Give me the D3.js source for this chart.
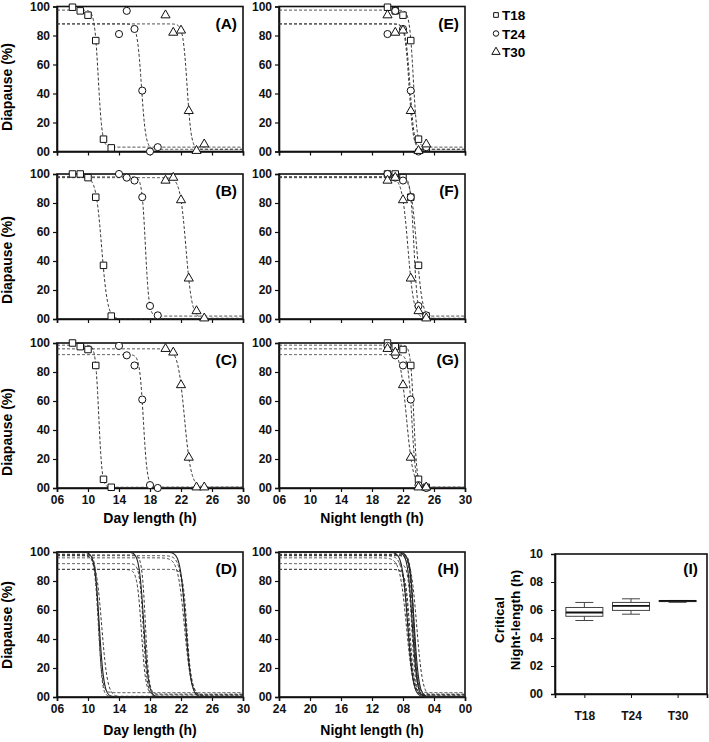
<!DOCTYPE html>
<html>
<head>
<meta charset="utf-8">
<script src="https://cdn.jsdelivr.net/npm/d3@7"></script>
<style>
body { margin: 0; background: #fff; }
svg { font-family: "Liberation Sans", Arial, sans-serif; font-weight: bold; }
.axis text { font: bold 12px "Liberation Sans", Arial, sans-serif; fill: #111; }
.axis path, .axis line { stroke: #111; }
</style>
</head>
<body>
<div id="chart"></div>
<script>
// ---- data ----
const temps = ["T18", "T24", "T30"];
const cycleLen = [18, 24, 30];

const dayT18 = [8, 9, 10, 11, 12, 13];
const dayT24 = [14, 15, 16, 17, 18, 19];
const dayT30 = [20, 21, 22, 23, 24, 25];

// replicate 1 (panels A, E)
const rep1T18 = [99.5, 97, 94, 76.5, 8.5, 2.5];
const rep1T24 = [81, 97, 84.5, 42, 0, 3];
const rep1T30 = [94, 82, 83.5, 28, 0.5, 5];
// replicate 2 (panels B, F)
const rep2T18 = [100, 100, 97.5, 84, 37, 2];
const rep2T24 = [100, 97.5, 95.5, 84, 9, 2.5];
const rep2T30 = [95.5, 97.5, 82, 28, 5.5, 0.5];
// replicate 3 (panels C, G)
const rep3T18 = [100, 97.5, 95.5, 84.5, 6, 0.5];
const rep3T24 = [98, 91.5, 84.5, 61, 2, 0];
const rep3T30 = [96, 93.5, 71, 21, 0.5, 0.5];

// fitted sigmoid parameters (top, bottom, 50% point, slope) per temperature
const top1 = [97.5, 88, 88],  bot1 = [3, 1.5, 1.5], mid1 = [11.33, 16.9, 22.79], slope1 = [0.25, 0.28, 0.27];
const top2 = [98, 98, 97.5],  bot2 = [0, 2, 0.5],   mid2 = [11.77, 17.41, 22.64], slope2 = [0.38, 0.23, 0.385];
const top3 = [98.5, 92, 96],  bot3 = [0.5, 0.5, 0.5], mid3 = [11.39, 17.15, 22.45], slope3 = [0.216, 0.25, 0.43];
// pooled fits (solid lines in D, H)
const topP = [100, 100, 100], botP = [0, 0, 0], midP = [11.45, 17.2, 22.6], slopeP = [0.3, 0.3, 0.35];

const dayTicks = [6, 10, 14, 18, 22, 26, 30];
const nightTicks = [24, 20, 16, 12, 8, 4, 0];
const pctTicks = [0, 20, 40, 60, 80, 100];

// critical night length box plot (I)
const boxCats = ["T18", "T24", "T30"];
const boxMin = [5.25, 5.7, 6.55];
const boxQ1 = [5.55, 5.97, 6.6];
const boxMed = [5.82, 6.3, 6.65];
const boxQ3 = [6.18, 6.54, 6.68];
const boxMax = [6.54, 6.8, 6.68];
const critTicks = [0, 2, 4, 6, 8, 10];

// ---- tables built from the arrays ----
const dayLengths = [dayT18, dayT24, dayT30];
const reps = [
    {day: "A", night: "E", values: [rep1T18, rep1T24, rep1T30], top: top1, bot: bot1, mid: mid1, slope: slope1},
    {day: "B", night: "F", values: [rep2T18, rep2T24, rep2T30], top: top2, bot: bot2, mid: mid2, slope: slope2},
    {day: "C", night: "G", values: [rep3T18, rep3T24, rep3T30], top: top3, bot: bot3, mid: mid3, slope: slope3}
];
const pooled = {top: topP, bot: botP, mid: midP, slope: slopeP};

function sigmoid(d, fit, i) {
    return fit.bot[i] + (fit.top[i] - fit.bot[i]) / (1 + Math.exp((d - fit.mid[i]) / fit.slope[i]));
}

// ---- layout ----
const W = 186, H = 145;
const colX = [57, 279];
const rowY = [6.5, 174, 343, 552];
const titleY = [87, 260, 432, 625];

let svg = d3.select("#chart").append("svg")
    .attr("width", 709)
    .attr("height", 742);

let symSquare = d3.symbol().type(d3.symbolSquare).size(42);
let symCircle = d3.symbol().type(d3.symbolCircle).size(40);
let symTriangle = d3.symbol().type(d3.symbolTriangle).size(36);
let symbols = [symSquare, symCircle, symTriangle];

function makePanel(px, py, ticks, showLabels, letter) {
    let g = svg.append("g").attr("transform", `translate(${px},${py})`);
    let x = d3.scaleLinear().domain([ticks[0], ticks[ticks.length - 1]]).range([0, W]);
    let y = d3.scaleLinear().domain([0, 100]).range([H, 0]);

    g.append("g")
        .attr("class", "axis")
        .attr("transform", `translate(0,${H})`)
        .call(d3.axisBottom(x).tickValues(ticks).tickSize(4).tickPadding(3)
            .tickFormat(showLabels ? d3.format("02d") : ""));
    g.append("g")
        .attr("class", "axis")
        .call(d3.axisLeft(y).tickValues(pctTicks).tickSize(4).tickPadding(3).tickFormat(d3.format("02d")));
    g.selectAll(".axis .domain").attr("stroke-width", 1.6);
    g.selectAll(".axis .tick line").attr("stroke-width", 1.2);

    g.append("rect")
        .attr("width", W).attr("height", H)
        .attr("fill", "none").attr("stroke", "#111").attr("stroke-width", 1.6);

    g.append("text")
        .attr("x", W - 6).attr("y", 22)
        .attr("text-anchor", "end")
        .style("font-size", "15.5px")
        .text(`(${letter})`);
    return {g: g, x: x, y: y};
}

function drawCurve(p, fit, i, toDay, dashed) {
    let xs = d3.range(p.x.domain()[0], p.x.domain()[1], p.x.domain()[1] > p.x.domain()[0] ? 0.04 : -0.04);
    xs.push(p.x.domain()[1]);
    let line = d3.line()
        .x(function (v) { return p.x(v); })
        .y(function (v) { return p.y(sigmoid(toDay(v, i), fit, i)); });
    p.g.append("path")
        .datum(xs)
        .attr("d", line)
        .attr("fill", "none")
        .attr("stroke", dashed ? "#333" : "#222")
        .attr("stroke-width", dashed ? 1 : 1.1)
        .attr("stroke-dasharray", dashed ? "3,2" : null);
}

function drawPoints(p, values, toX) {
    for (let i = 0; i < 3; i++) {
        let pts = dayLengths[i].map(function (d, k) { return [toX(d, i), values[i][k]]; });
        p.g.selectAll(null).data(pts).enter()
            .append("path")
            .attr("d", symbols[i])
            .attr("transform", function (d) { return `translate(${p.x(d[0])},${p.y(d[1])})`; })
            .attr("fill", "#fff")
            .attr("stroke", "#111")
            .attr("stroke-width", 1);
    }
}

// day length axis: day as-is; night panels E-G: shifted to the 30 h frame
let dayX = function (v) { return v; };
let shiftX = function (d, i) { return d + 30 - cycleLen[i]; };
let unshift = function (v, i) { return v - 30 + cycleLen[i]; };
let nightToDay = function (n, i) { return cycleLen[i] - n; };

reps.forEach(function (r, row) {
    let left = makePanel(colX[0], rowY[row], dayTicks, row === 2, r.day);
    let right = makePanel(colX[1], rowY[row], dayTicks, row === 2, r.night);
    for (let i = 0; i < 3; i++) {
        drawCurve(left, r, i, dayX, true);
        drawCurve(right, r, i, unshift, true);
    }
    drawPoints(left, r.values, dayX);
    drawPoints(right, r.values, shiftX);
});

// D and H: all fitted curves
let pD = makePanel(colX[0], rowY[3], dayTicks, true, "D");
let pH = makePanel(colX[1], rowY[3], nightTicks, true, "H");
reps.forEach(function (r) {
    for (let i = 0; i < 3; i++) {
        drawCurve(pD, r, i, dayX, true);
        drawCurve(pH, r, i, nightToDay, true);
    }
});
for (let i = 0; i < 3; i++) {
    drawCurve(pD, pooled, i, dayX, false);
    drawCurve(pH, pooled, i, nightToDay, false);
}

// axis titles
rowY.forEach(function (ry, row) {
    svg.append("text")
        .attr("transform", `translate(12,${titleY[row]}) rotate(-90)`)
        .attr("text-anchor", "middle")
        .style("font-size", "14px")
        .text("Diapause (%)");
});
[rowY[2] + H + 35, rowY[3] + H + 38].forEach(function (ty) {
    svg.append("text")
        .attr("x", colX[0] + W / 2).attr("y", ty)
        .attr("text-anchor", "middle")
        .style("font-size", "14px")
        .text("Day length (h)");
    svg.append("text")
        .attr("x", colX[1] + W / 2).attr("y", ty)
        .attr("text-anchor", "middle")
        .style("font-size", "14px")
        .text("Night length (h)");
});

// legend
let legend = svg.append("g").attr("transform", "translate(496,15)");
let legSyms = [d3.symbol().type(d3.symbolSquare).size(22),
               d3.symbol().type(d3.symbolCircle).size(24),
               d3.symbol().type(d3.symbolTriangle).size(30)];
temps.forEach(function (t, i) {
    legend.append("path")
        .attr("d", legSyms[i])
        .attr("transform", `translate(0,${i * 18.5})`)
        .attr("fill", "#fff").attr("stroke", "#111").attr("stroke-width", 1);
    legend.append("text")
        .attr("x", 6).attr("y", i * 18.5 + 5)
        .style("font-size", "13.5px")
        .text(t);
});

// ---- panel I: critical night length ----
const IW = 152, IH = 140;
let gI = svg.append("g").attr("transform", "translate(555,554)");
let xI = d3.scalePoint().domain(boxCats).range([0, IW]).padding(0.63);
let yI = d3.scaleLinear().domain([0, 10]).range([IH, 0]);

gI.append("g")
    .attr("class", "axis")
    .attr("transform", `translate(0,${IH})`)
    .call(d3.axisBottom(xI).tickSize(4).tickPadding(13));
gI.append("g")
    .attr("class", "axis")
    .call(d3.axisLeft(yI).tickValues(critTicks).tickSize(4).tickPadding(8).tickFormat(d3.format("02d")));
gI.selectAll(".axis .domain").attr("stroke-width", 1.6);
gI.append("rect")
    .attr("width", IW).attr("height", IH)
    .attr("fill", "none").attr("stroke", "#111").attr("stroke-width", 1.6);
gI.append("text")
    .attr("x", IW - 9).attr("y", 20)
    .attr("text-anchor", "end")
    .style("font-size", "15.5px")
    .text("(I)");

let boxW = 37, capW = 18;
boxCats.forEach(function (c, i) {
    let cx = xI(c);
    gI.append("line")
        .attr("x1", cx).attr("x2", cx)
        .attr("y1", yI(boxMin[i])).attr("y2", yI(boxMax[i]))
        .attr("stroke", "#444").attr("stroke-width", 1);
    [boxMin[i], boxMax[i]].forEach(function (v) {
        gI.append("line")
            .attr("x1", cx - capW / 2).attr("x2", cx + capW / 2)
            .attr("y1", yI(v)).attr("y2", yI(v))
            .attr("stroke", "#444").attr("stroke-width", 1);
    });
    gI.append("rect")
        .attr("x", cx - boxW / 2).attr("width", boxW)
        .attr("y", yI(boxQ3[i])).attr("height", yI(boxQ1[i]) - yI(boxQ3[i]))
        .attr("fill", "#fff").attr("stroke", "#444").attr("stroke-width", 1);
    gI.append("line")
        .attr("x1", cx - boxW / 2).attr("x2", cx + boxW / 2)
        .attr("y1", yI(boxMed[i])).attr("y2", yI(boxMed[i]))
        .attr("stroke", "#111").attr("stroke-width", 1.8);
});

let yTitle = gI.append("text")
    .attr("transform", `translate(-51,${IH / 2 - 4}) rotate(-90)`)
    .attr("text-anchor", "middle")
    .style("font-size", "13.5px");
yTitle.append("tspan").attr("x", 0).attr("dy", 0).text("Critical");
yTitle.append("tspan").attr("x", 0).attr("dy", 15.5).text("Night-length (h)");
</script>
</body>
</html>
